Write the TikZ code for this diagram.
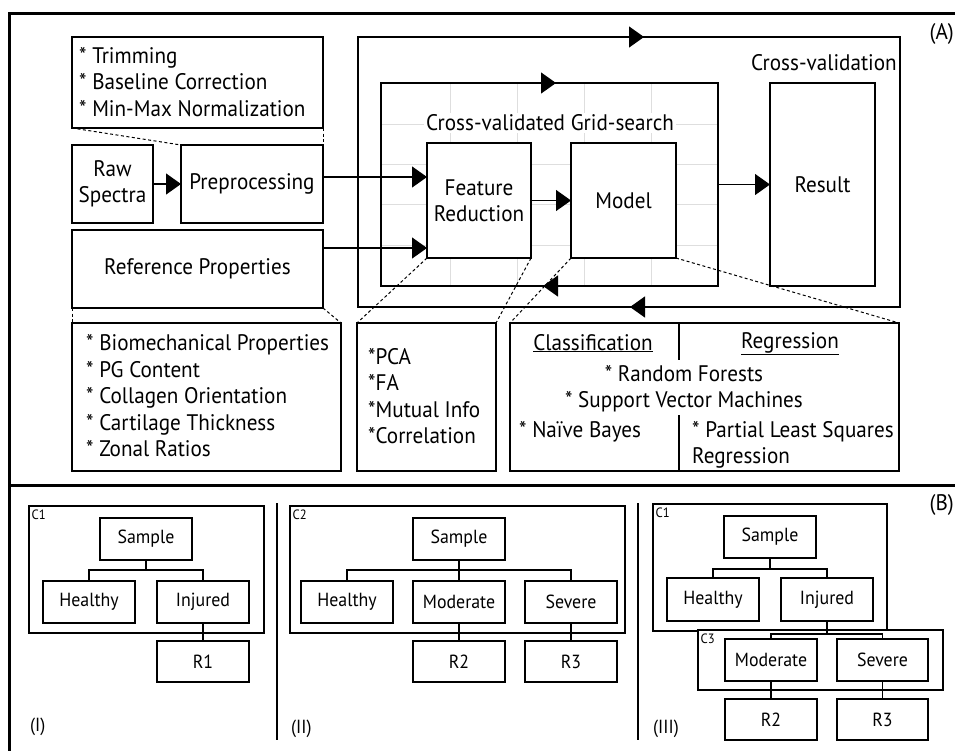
\documentclass[tikz,border=0pt]{standalone}
\usepackage{fontspec}
\setmainfont{PT Sans}[FakeStretch=0.94]
\usetikzlibrary{arrows.meta,calc}
\tikzset{
  box/.style={draw, line width=1.3pt, fill=white, inner sep=0pt, outer sep=0pt, align=center},
  cont/.style={draw, line width=1.3pt, inner sep=0pt, outer sep=0pt},
  arr/.style={line width=1.3pt, -{Triangle[length=15pt,width=21pt]}},
  dotl/.style={line width=1pt, dash pattern=on 3pt off 2.5pt},
  frame/.style={line width=3pt},
  gridln/.style={line width=1pt, draw=black!13},
  tl/.style={line width=1.3pt},
  big/.style={font=\fontsize{22.5}{26}\selectfont},
  txt/.style={inner sep=0pt, big},
  small/.style={font=\fontsize{19}{22}\selectfont},
  tiny/.style={inner sep=0pt, font=\fontsize{13.5}{15}\selectfont},
}
\newcommand{\rbox}[7][]{%
  \pgfmathsetmacro{\rbW}{#4-#2}\pgfmathsetmacro{\rbH}{#5-#3}%
  \pgfmathsetmacro{\rbX}{(#2+#4)/2}\pgfmathsetmacro{\rbY}{(#3+#5)/2}%
  \node[box,minimum width=\rbW pt,minimum height=\rbH pt,#1] (#6) at (\rbX,\rbY) {#7};}
\begin{document}
\begin{tikzpicture}[x=1pt,y=-1pt]
\useasboundingbox (0,0) rectangle (955,750);
\begin{scope}
\clip (0,0) rectangle (955,750);
% outer frame
\coordinate (ftr) at (960,13); \coordinate (ftl) at (9,13); \coordinate (fbl) at (9,752);
\draw[frame] (ftr) -- (ftl) -- (fbl);
\coordinate (dl) at (9,485); \coordinate (dr) at (960,485);
\draw[frame] (dl) -- (dr);
\node[txt, anchor=east] (lA) at (954,34) {(A)};
\node[txt, anchor=east] (lB) at (954,505) {(B)};

% ---------- (A) ----------
\rbox[cont]{358}{37}{900}{307}{cv}{}
\node[txt, anchor=base east] (cvl) at (897,70) {Cross-validation};
\rbox{381}{83}{718}{286}{gs}{}
\foreach \gx in {450,517,584,651} \draw[gridln] (\gx,84) -- (\gx,285);
\foreach \gy in {124,164,204,245} \draw[gridln] (382,\gy) -- (717,\gy);
\node[txt, fill=white, inner sep=2pt] (gsl) at (550,123) {Cross-validated Grid-search};
\rbox[big]{427}{143}{531}{258}{fr}{Feature\\Reduction}
\rbox[big]{571}{143}{676}{258}{model}{Model}
\rbox[big]{770}{83}{875}{286}{res}{Result}

\rbox{72}{37}{323}{128}{det}{}
\node[txt, anchor=base west] (d1) at (79,63) {* Trimming};
\node[txt, anchor=base west] (d2) at (79,89.5) {* Baseline Correction};
\node[txt, anchor=base west] (d3) at (79,116) {* Min-Max Normalization};
\rbox[big]{72}{145}{153}{223}{raw}{Raw\\Spectra}
\rbox[big]{181}{145}{323}{223}{pre}{Preprocessing}
\rbox[big]{72}{230}{323}{308}{ref}{Reference Properties}

\rbox{72}{323}{341}{471}{bio}{}
\node[txt, anchor=base west] (b1) at (86,350) {* Biomechanical Properties};
\node[txt, anchor=base west] (b2) at (86,377) {* PG Content};
\node[txt, anchor=base west] (b3) at (86,403.5) {* Collagen Orientation};
\node[txt, anchor=base west] (b4) at (86,430) {* Cartilage Thickness};
\node[txt, anchor=base west] (b5) at (86,456.5) {* Zonal Ratios};

\rbox{357}{323}{496}{471}{pca}{}
\node[txt, anchor=base west] (p1) at (368,364) {*PCA};
\node[txt, anchor=base west] (p2) at (368,390.5) {*FA};
\node[txt, anchor=base west] (p3) at (368,417) {*Mutual Info};
\node[txt, anchor=base west] (p4) at (368,443.5) {*Correlation};

\rbox{510}{323}{899}{471}{cls}{}
\coordinate (dv1) at (679,323); \coordinate (dv2) at (679,360);
\coordinate (dv3) at (679,415); \coordinate (dv4) at (679,471);
\draw[tl] (dv1) -- (dv2); \draw[tl] (dv3) -- (dv4);
\node[txt, anchor=base] (c1) at (593,350) {\underline{Classification}};
\node[txt, anchor=base] (c2) at (790,348) {\underline{Regression}};
\node[txt, anchor=base] (c3) at (684,381) {* Random Forests};
\node[txt, anchor=base] (c4) at (684,407.5) {* Support Vector Machines};
\node[txt, anchor=base west] (c5) at (519,437) {* Naïve Bayes};
\node[txt, anchor=base west] (c6) at (692,437) {* Partial Least Squares};
\node[txt, anchor=base west] (c7) at (692,463) {Regression};

% connectors
\draw[arr] (raw.east) -- (pre.west);
\draw[arr] ([yshift=7pt]pre.east) -- ([yshift=7pt]pre.east -| fr.west);
\draw[arr] ([yshift=21pt]ref.east) -- ([yshift=21pt]ref.east -| fr.west);
\draw[arr] (fr.east) -- (model.west);
\draw[arr] (gs.east) -- (res.west);
\draw[arr] ([xshift=-2pt]cv.north) -- ([xshift=15pt]cv.north);
\draw[arr] ([xshift=-8pt]gs.north) -- ([xshift=6.5pt]gs.north);
\draw[arr] ([xshift=15pt]gs.south) -- ([xshift=-6.5pt]gs.south);
\draw[arr] ([xshift=20pt]cv.south) -- ([xshift=1pt]cv.south);

\draw[dotl] (det.south west) -- (pre.north west);
\draw[dotl] (det.south east) -- (pre.north east);
\draw[dotl] (ref.south west) -- (bio.north west);
\draw[dotl] (ref.south east) -- (bio.north east);
\draw[dotl] (fr.south west) -- (pca.north west);
\draw[dotl] (fr.south east) -- (pca.north east);
\draw[dotl] (model.south west) -- (cls.north west);
\draw[dotl] (model.south east) -- (cls.north east);

% ---------- (B) ----------
\coordinate (s1t) at (277,503); \coordinate (s1b) at (277,740);
\coordinate (s2t) at (638,503); \coordinate (s2b) at (638,740);
\draw[tl] (s1t) -- (s1b); \draw[tl] (s2t) -- (s2b);

% panel I
\rbox[cont]{29}{506}{264}{633}{ca}{}
\node[tiny, anchor=north west] (cal) at ([shift={(2.5pt,-4pt)}]ca.north west) {C1};
\rbox[small]{100}{518}{192}{560}{sa1}{Sample}
\rbox[small]{43}{581}{135}{623}{he1}{Healthy}
\rbox[small]{157}{581}{249}{623}{in1}{Injured}
\rbox[small]{157}{641}{249}{682}{ra1}{R1}
\coordinate (j1) at ($(sa1.south)+(0,10)$);
\draw[tl] (sa1.south) -- (j1);
\draw[tl] (he1.north) |- (j1) -| (in1.north);
\draw[tl] (in1.south) -- (ra1.north);
\node[small, anchor=west, inner sep=0pt] (l1) at (30,727) {(I)};

% panel II
\rbox[cont]{290}{506}{625}{633}{cb}{}
\node[tiny, anchor=north west] (cbl) at ([shift={(2.5pt,-4pt)}]cb.north west) {C2};
\rbox[small]{413}{518}{505}{560}{sa2}{Sample}
\rbox[small]{301}{581}{393}{623}{he2}{Healthy}
\rbox[small]{413}{581}{505}{623}{mo2}{Moderate}
\rbox[small]{525}{581}{617}{623}{se2}{Severe}
\rbox[small]{413}{641}{505}{682}{ra2}{R2}
\rbox[small]{525}{641}{617}{682}{ra3}{R3}
\coordinate (j2) at ($(sa2.south)+(0,10)$);
\draw[tl] (sa2.south) -- (mo2.north);
\draw[tl] (he2.north) |- (j2) -| (se2.north);
\draw[tl] (mo2.south) -- (ra2.north);
\draw[tl] (se2.south) -- (ra3.north);
\node[small, anchor=west, inner sep=0pt] (l2) at (291,729) {(II)};

% panel III
\rbox[cont]{653}{504}{887}{631}{cc}{}
\node[tiny, anchor=north west] (ccl) at ([shift={(2.5pt,-4pt)}]cc.north west) {C1};
\rbox[cont]{698}{630}{943}{690}{cd}{}
\node[tiny, anchor=north west] (cdl) at ([shift={(2.5pt,-4pt)}]cd.north west) {C3};
\rbox[small]{724}{516}{816}{558}{sa3}{Sample}
\rbox[small]{667}{578}{759}{621}{he3}{Healthy}
\rbox[small]{781}{578}{873}{621}{in3}{Injured}
\rbox[small]{725}{639}{817}{681}{mo3}{Moderate}
\rbox[small]{837}{639}{928}{681}{se3}{Severe}
\rbox[small]{725}{699}{817}{740}{rb2}{R2}
\rbox[small]{837}{699}{928}{740}{rb3}{R3}
\coordinate (j3) at ($(sa3.south)+(0,11)$);
\draw[tl] (sa3.south) -- (j3);
\draw[tl] (he3.north) |- (j3) -| (in3.north);
\coordinate (j4) at ($(in3.south)+(0,13)$);
\draw[tl] (in3.south) -- (j4);
\draw[tl] (mo3.north) |- (j4) -| (se3.north);
\draw[tl] (mo3.south) -- (rb2.north);
\draw[tl] (se3.south) -- (rb3.north);
\node[small, anchor=west, inner sep=0pt] (l3) at (653,729) {(III)};
\end{scope}
\end{tikzpicture}
\end{document}
